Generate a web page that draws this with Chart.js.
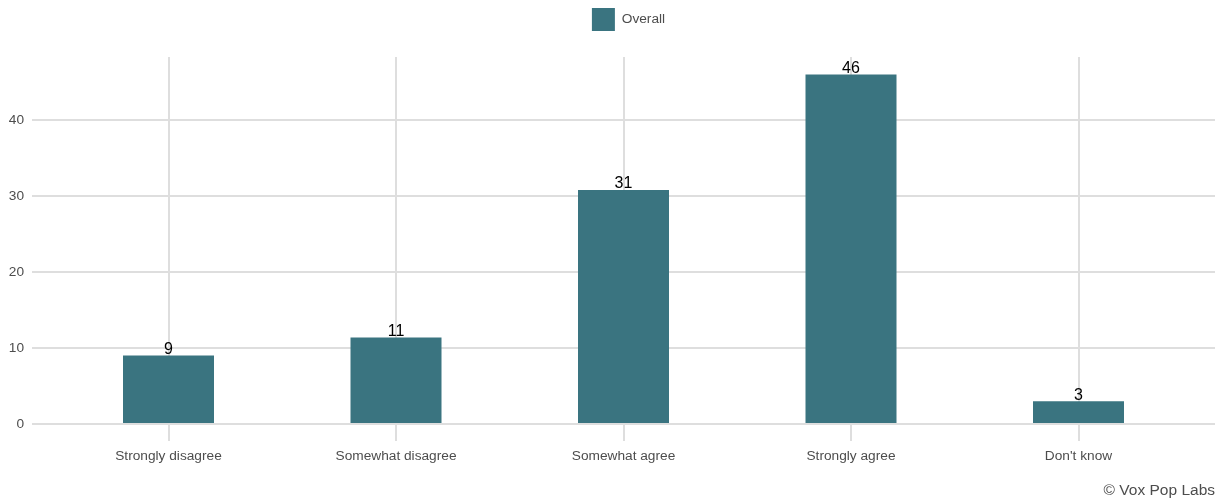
<!DOCTYPE html>
<html>
<head>
<meta charset="utf-8">
<script src="https://cdn.jsdelivr.net/npm/chart.js@4/dist/chart.umd.min.js"></script>
<style>
  html, body { margin: 0; padding: 0; background: #fff; }
  .chart-container { position: relative; width: 1215px; height: 501px; }
</style>
</head>
<body>
<div class="chart-container">
  <canvas id="chart" width="1215" height="501"></canvas>
</div>
<script>
const categories = ['Strongly disagree', 'Somewhat disagree', 'Somewhat agree', 'Strongly agree', "Don't know"];
const overallValues = [9.0, 11.4, 30.8, 46.0, 3.0];
const yTickValues = [0, 10, 20, 30, 40];

const barColor = '#3a7480';
const gridColor = '#dedede';
const textColor = '#4d4d4d';
const fontFamily = '"Liberation Sans", Arial, Helvetica, sans-serif';

// value labels on top of each bar
const barLabels = {
  id: 'barLabels',
  afterDatasetsDraw(chart) {
    const ctx = chart.ctx;
    const meta = chart.getDatasetMeta(0);
    ctx.save();
    ctx.font = '16px ' + fontFamily;
    ctx.fillStyle = '#000';
    ctx.textAlign = 'center';
    ctx.textBaseline = 'bottom';
    meta.data.forEach((bar, i) => {
      ctx.fillText(String(Math.round(overallValues[i])), bar.x, bar.y + 2);
    });
    ctx.restore();
  }
};

// extra gap under the legend, and centre it over the plot panel
const legendTweak = {
  id: 'legendTweak',
  beforeLayout(chart) {
    const legend = chart.legend;
    if (legend && !legend._tweaked) {
      const fit = legend.fit;
      legend.fit = function() {
        fit.call(this);
        this.height += 16;
      };
      legend._tweaked = true;
    }
  },
  afterLayout(chart) {
    const legend = chart.legend;
    const shift = (chart.chartArea.left + chart.chartArea.right) / 2 - (legend.left + legend.right) / 2 + 5;
    legend.left += shift;
    legend.right += shift;
  }
};

const caption = {
  id: 'caption',
  afterDraw(chart) {
    const ctx = chart.ctx;
    ctx.save();
    ctx.font = '15.5px ' + fontFamily;
    ctx.fillStyle = textColor;
    ctx.textAlign = 'right';
    ctx.textBaseline = 'alphabetic';
    ctx.fillText('\u00a9 Vox Pop Labs', chart.width, chart.height - 6);
    ctx.restore();
  }
};

const ctx = document.getElementById('chart').getContext('2d');
new Chart(ctx, {
  type: 'bar',
  data: {
    datasets: [{
      label: 'Overall',
      data: overallValues.map((v, i) => ({ x: i + 1, y: v })),
      backgroundColor: barColor,
      borderWidth: 0,
      barPercentage: 0.4,
      categoryPercentage: 1
    }]
  },
  options: {
    responsive: false,
    animation: false,
    layout: { padding: 0 },
    scales: {
      x: {
        type: 'linear',
        min: 0.4,
        max: 5.6,
        offset: false,
        afterBuildTicks: (scale) => {
          scale.ticks = categories.map((c, i) => ({ value: i + 1 }));
        },
        afterFit: (scale) => { scale.height = 77; },
        border: { display: false },
        grid: { color: gridColor, lineWidth: 2, tickLength: 17, offset: false },
        ticks: {
          color: textColor,
          font: { family: fontFamily, size: 13.7 },
          padding: 7,
          maxRotation: 0,
          autoSkip: false,
          callback: (value) => categories[value - 1]
        }
      },
      y: {
        min: 0,
        max: 48.3,
        afterBuildTicks: (scale) => {
          scale.ticks = yTickValues.map(v => ({ value: v }));
        },
        afterFit: (scale) => { scale.width = 32; },
        border: { display: false },
        grid: { color: gridColor, lineWidth: 2, tickLength: 0 },
        ticks: {
          color: textColor,
          font: { family: fontFamily, size: 13.7 },
          padding: 8
        }
      }
    },
    plugins: {
      legend: {
        display: true,
        position: 'top',
        labels: {
          boxWidth: 23,
          boxHeight: 23,
          color: textColor,
          font: { family: fontFamily, size: 13.7 },
          padding: 8
        }
      },
      tooltip: { enabled: false }
    }
  },
  plugins: [legendTweak, barLabels, caption]
});
</script>
</body>
</html>
